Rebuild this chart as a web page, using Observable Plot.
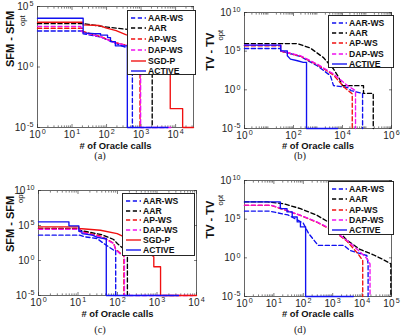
<!DOCTYPE html>
<html>
<head>
<meta charset="utf-8">
<script src="https://cdn.jsdelivr.net/npm/d3@7"></script>
<script src="https://cdn.jsdelivr.net/npm/@observablehq/plot@0.6"></script>
<style>
  body { margin: 0; background: #fff; }
  #fig { position: relative; width: 401px; height: 336px; overflow: hidden; background: #fff;
         font-family: "Liberation Sans", Arial, sans-serif; }
  .panel { position: absolute; }
  .cap { position: absolute; width: 40px; text-align: center; font-family: "Liberation Serif", "Times New Roman", serif;
         font-size: 10.5px; color: #222; }
  .legend { position: absolute; background: #fff; border: 0.7px solid #262626; box-sizing: border-box; }
  .legend .row { position: absolute; left: 0; height: 10px; display: flex; align-items: center; white-space: nowrap; }
  .legend svg { display: block; }
  .legend span { font-weight: bold; font-size: 8.6px; color: #111; margin-left: 2px; }
</style>
</head>
<body>
<div id="fig"></div>
<script>
// ---- data: vertices of each convergence curve (oracle calls, gap) ----
const namesSFM = ["AAR-WS", "AAR", "AP-WS", "DAP-WS", "SGD-P", "ACTIVE"];
const namesTV = ["AAR-WS", "AAR", "AP-WS", "DAP-WS", "ACTIVE"];

// (a) SFM, first instance
const sfmA_AARWS = [[1,950],[21,950],[21,550],[67,300],[170,100],[300,50],[560,30],[560,1e-5]];
const sfmA_AAR = [[1,3800],[21,3800],[30,3300],[80,2200],[200,1600],[400,1300],[700,300],[1200,20],[2100,3],[2100,1e-5]];
const sfmA_APWS = [[1,1600],[20,1600],[20,900],[67,330],[170,110],[400,60],[800,15],[930,4],[930,1e-5]];
const sfmA_DAPWS = [[1,2300],[18,2300],[18,1000],[21,700],[67,310],[170,105],[400,60],[700,20],[970,5],[970,1e-5],[8000,1e-5]];
const sfmA_SGDP = [[1,5000],[21,5000],[21,3000],[60,2700],[95,1700],[190,1000],[360,480],[1000,210],[2000,60],[3500,20],[7000,5],[7000,3.6e-4],[1.6e4,3.6e-4],[1.6e4,1e-5],[3.3e4,1e-5]];
const sfmA_ACTIVE = [[1,1.07e4],[21,1.07e4],[21,660],[45,560],[67,560],[67,430],[107,430],[107,270],[130,270],[130,126],[180,126],[180,56],[400,56],[400,1e-5],[6000,1e-5]];

// (b) TV, first instance
const tvB_AARWS = [[1,2.2e5],[30,2.2e5],[30,1.1e5],[195,2e4],[930,1300],[3200,70],[4300,3.5],[1.6e4,2],[2.2e4,0.8],[6.6e4,0.35],[6.6e4,1e-5]];
const tvB_AAR = [[1,9.5e5],[145,9.5e5],[490,2.5e5],[1660,1.5e4],[4300,490],[7000,40],[1e4,3.5],[7.2e4,3.5],[7.2e4,0.35],[1.8e5,0.35],[1.8e5,1e-5]];
const tvB_APWS = [[1,5e5],[30,5e5],[30,1e5],[195,2.2e4],[930,1800],[4300,80],[1.2e4,2],[2.5e4,0.3],[2.5e4,1e-5]];
const tvB_DAPWS = [[1,6e5],[30,6e5],[30,1.1e5],[195,2.5e4],[930,2100],[4300,110],[1.6e4,3.5],[3.4e4,0.8],[3.4e4,1e-5]];
const tvB_ACTIVE = [[1,6e5],[30,6e5],[30,1.1e5],[56,1.1e5],[56,2.5e4],[75,9.3e3],[145,5.8e3],[250,3.5e3],[340,3.5e3],[340,1e-5],[6300,1e-5]];

// (c) SFM, second instance
const sfmC_AARWS = [[1,4.2e3],[11,4.2e3],[15,2.4e3],[30,1.4e3],[45,270],[80,30],[90,30],[90,1e-5]];
const sfmC_AAR = [[1,3.7e4],[11,3.7e4],[11,2e4],[40,5e3],[80,1000],[100,250],[140,50],[178,10],[178,1e-5]];
const sfmC_APWS = [[1,3.3e4],[11,3.3e4],[11,1.5e4],[38,3e3],[80,300],[90,40],[120,10],[145,10],[145,1e-5]];
const sfmC_DAPWS = [[1,2.8e4],[11.2,2.8e4],[11.2,1.2e4],[38,2.4e3],[80,270],[90,30],[120,8],[150,8],[150,1e-5],[8000,1e-5]];
const sfmC_SGDP = [[1,6.5e4],[10.5,6.5e4],[10.5,3.7e4],[37,2.1e4],[98,7e3],[178,1.4e3],[316,270],[560,17],[830,3.4],[830,0.13],[1230,0.13],[1230,1e-5],[1e4,1e-5]];
const sfmC_ACTIVE = [[1,3.3e5],[5.9,3.3e5],[5.9,9e4],[10.5,9e4],[10.5,1.5e4],[12.6,1.5e4],[12.6,7e3],[23,4.2e3],[31,2e3],[45,1.4e3],[52,1.4e3],[52,1e-5],[3500,1e-5]];

// (d) TV, second instance
const tvD_AARWS = [[1,1.1e6],[7,1.1e6],[30,3.5e5],[100,3e4],[150,1.5e3],[320,40],[2400,40],[3900,9],[1.45e4,2],[1.6e4,0.17],[1.6e4,1e-5]];
const tvD_AAR = [[1,1.7e7],[6,1.7e7],[21,1e7],[80,2.3e6],[290,3.2e5],[1070,1.7e4],[3000,200],[8500,12],[2.4e4,2.5],[5.2e4,0.6],[9.5e4,0.17],[9.5e4,1e-5]];
const tvD_APWS = [[1,6e6],[8,6e6],[21,1.8e6],[80,3e5],[290,4e4],[1070,3e3],[3000,150],[7000,4],[1.05e4,0.45],[1.05e4,1e-5]];
const tvD_DAPWS = [[1,6.5e6],[8,6.5e6],[21,2e6],[80,3.2e5],[290,4.4e4],[1070,3.6e3],[3000,190],[8500,6],[1.45e4,0.8],[1.86e4,0.17],[1.86e4,1e-5]];
const tvD_ACTIVE = [[1,1.7e7],[16.5,1.7e7],[16.5,2.3e6],[28,2.3e6],[28,8.7e5],[42,8.7e5],[42,1.9e5],[62,1.9e5],[62,4.4e4],[80,4.4e4],[80,1e4],[120,1e4],[120,1e-5],[5000,1e-5]];

// axis ticks
const xTicksA = [1, 10, 100, 1000, 10000];
const xTicksB = [1, 100, 1e4, 1e6];
const xTicksC = [1, 10, 100, 1000, 10000];
const xTicksD = [1, 10, 100, 1000, 1e4, 1e5];
const yTicksSFM1 = [1e-5, 1, 1e5];
const yTicksWide = [1e-5, 1, 1e5, 1e10];

// line style of each method
const styles = {
  "AAR-WS": {stroke: "#1010f0", dash: true},
  "AAR":    {stroke: "#000000", dash: true},
  "AP-WS":  {stroke: "#f01010", dash: true},
  "DAP-WS": {stroke: "#f010f0", dash: true},
  "SGD-P":  {stroke: "#f01010", dash: false},
  "ACTIVE": {stroke: "#1010f0", dash: false}
};
const DASH = "4.2,2.6";

const fig = document.getElementById("fig");

function minorTicks(lo, hi) {
  const out = [];
  for (let k = Math.floor(Math.log10(lo)); k <= Math.ceil(Math.log10(hi)); k++)
    for (let m = 2; m <= 9; m++) { const v = m * Math.pow(10, k); if (v > lo && v < hi) out.push(v); }
  return out;
}

function superscripts(svg) {
  const ns = "http://www.w3.org/2000/svg";
  svg.querySelectorAll("text").forEach(t => {
    const m = /^10\^(-?\d+)$/.exec(t.textContent);
    if (!m) return;
    t.textContent = "";
    const a = document.createElementNS(ns, "tspan"); a.textContent = "10";
    const b = document.createElementNS(ns, "tspan"); b.textContent = m[1];
    b.setAttribute("dy", "-0.45em"); b.setAttribute("dx", "1.2"); b.setAttribute("font-size", "7.2");
    t.append(a, b);
  });
}

function panel(cfg) {
  const fmt = d => "10^" + Math.round(Math.log10(d));
  const marks = [
    Plot.frame({stroke: "#262626", strokeWidth: 0.7}),
    Plot.axisX(cfg.xTicks, {tickSize: 0, tickPadding: 3, tickFormat: fmt, fontSize: 10, label: null}),
    Plot.axisY(cfg.yTicks, {tickSize: 0, tickPadding: 4, tickFormat: fmt, fontSize: 10, label: null}),
    Plot.axisX(cfg.xTicks, {tickSize: -3, text: null, label: null, strokeWidth: 0.6}),
    Plot.axisX(cfg.xTicks, {anchor: "top", tickSize: -3, text: null, label: null, strokeWidth: 0.6}),
    Plot.axisX(minorTicks(cfg.xDomain[0], cfg.xDomain[1]), {tickSize: -1.6, text: null, label: null, strokeWidth: 0.6}),
    Plot.axisX(minorTicks(cfg.xDomain[0], cfg.xDomain[1]), {anchor: "top", tickSize: -1.6, text: null, label: null, strokeWidth: 0.6}),
    Plot.axisY(cfg.yTicks, {tickSize: -3, text: null, label: null, strokeWidth: 0.6}),
    Plot.axisY(cfg.yTicks, {anchor: "right", tickSize: -3, text: null, label: null, strokeWidth: 0.6}),
    Plot.text(["# of Oracle calls"], {frameAnchor: "bottom", dy: cfg.xLabelDy, fontWeight: "bold", fontSize: 9.4, fill: "#111"}),
    Plot.text([cfg.yLabel], {frameAnchor: "left", rotate: -90, dx: cfg.yLabelDx, dy: cfg.yLabelDy, fontWeight: "bold", fontSize: 11, fill: "#111"}),
    Plot.text(["opt"], {frameAnchor: "left", rotate: -90, dx: cfg.subDx, dy: cfg.subDy, fontSize: 7.6, fill: "#111"})
  ];
  cfg.series.forEach(([name, pts]) => {
    const s = styles[name];
    marks.push(Plot.line(pts, {x: d => d[0], y: d => d[1], stroke: s.stroke, strokeWidth: 1.35,
      strokeDasharray: s.dash ? DASH : null, curve: "linear"}));
  });
  const svg = Plot.plot({
    width: cfg.width, height: cfg.height,
    marginLeft: cfg.m[0], marginRight: cfg.m[1], marginTop: cfg.m[2], marginBottom: cfg.m[3],
    x: {type: "log", domain: cfg.xDomain},
    y: {type: "log", domain: cfg.yDomain},
    style: {fontFamily: '"Liberation Sans", Arial, sans-serif', fontSize: "10px", color: "#262626", background: "transparent", overflow: "visible"},
    marks
  });
  superscripts(svg);
  const wrap = document.createElement("div");
  wrap.className = "panel";
  wrap.style.left = cfg.left + "px"; wrap.style.top = cfg.top + "px";
  wrap.appendChild(svg);
  fig.appendChild(wrap);

  // legend box
  const lg = document.createElement("div");
  lg.className = "legend";
  const [lx, ly, lw, lh] = cfg.legend;
  Object.assign(lg.style, {left: lx + "px", top: ly + "px", width: lw + "px", height: lh + "px"});
  cfg.series.forEach(([name], i) => {
    const s = styles[name];
    const row = document.createElement("div");
    row.className = "row";
    row.style.top = (cfg.legendRow0 + i * cfg.legendStep - 5) + "px";
    row.style.left = "3px";
    row.innerHTML = `<svg width="15" height="4"><line x1="0" x2="15" y1="2" y2="2" stroke="${s.stroke}" stroke-width="1.35" ${s.dash ? `stroke-dasharray="${DASH}"` : ""}/></svg><span>${name}</span>`;
    lg.appendChild(row);
  });
  fig.appendChild(lg);

  const cap = document.createElement("div");
  cap.className = "cap";
  cap.textContent = cfg.caption;
  cap.style.left = (cfg.capX - 20) + "px"; cap.style.top = cfg.capY + "px";
  fig.appendChild(cap);
}

panel({
  left: 0, top: 0, width: 200, height: 168, m: [37, 7, 6, 41],
  xDomain: [1, 3.3e4], yDomain: [1e-5, 1e5], xTicks: xTicksA, yTicks: yTicksSFM1,
  yLabel: "SFM - SFM", yLabelDx: -27, yLabelDy: 0, subDx: -15, subDy: -41, xLabelDy: 21,
  series: [["AAR-WS", sfmA_AARWS], ["AAR", sfmA_AAR], ["AP-WS", sfmA_APWS], ["DAP-WS", sfmA_DAPWS], ["SGD-P", sfmA_SGDP], ["ACTIVE", sfmA_ACTIVE]],
  legend: [127, 10, 69, 65], legendRow0: 6.7, legendStep: 10.7,
  caption: "(a)", capX: 100, capY: 150
});
panel({
  left: 200, top: 0, width: 201, height: 168, m: [44, 10, 12, 40],
  xDomain: [1, 1e6], yDomain: [1e-5, 1e10], xTicks: xTicksB, yTicks: yTicksWide,
  yLabel: "TV - TV", yLabelDx: -34, yLabelDy: 0, subDx: -24, subDy: -30, xLabelDy: 20,
  series: [["AAR-WS", tvB_AARWS], ["AAR", tvB_AAR], ["AP-WS", tvB_APWS], ["DAP-WS", tvB_DAPWS], ["ACTIVE", tvB_ACTIVE]],
  legend: [328, 15, 66, 53], legendRow0: 6.7, legendStep: 10.3,
  caption: "(b)", capX: 300, capY: 150
});
panel({
  left: 0, top: 168, width: 200, height: 168, m: [38, 4, 22, 41],
  xDomain: [1, 1e4], yDomain: [1e-5, 1e10], xTicks: xTicksC, yTicks: yTicksWide,
  yLabel: "SFM - SFM", yLabelDx: -28, yLabelDy: 9, subDx: -18, subDy: -40, xLabelDy: 21,
  series: [["AAR-WS", sfmC_AARWS], ["AAR", sfmC_AAR], ["AP-WS", sfmC_APWS], ["DAP-WS", sfmC_DAPWS], ["SGD-P", sfmC_SGDP], ["ACTIVE", sfmC_ACTIVE]],
  legend: [122, 193, 73, 63], legendRow0: 6.7, legendStep: 9.8,
  caption: "(c)", capX: 100, capY: 324
});
panel({
  left: 200, top: 168, width: 201, height: 168, m: [44, 10, 12, 40],
  xDomain: [1, 1e5], yDomain: [1e-5, 1e10], xTicks: xTicksD, yTicks: yTicksWide,
  yLabel: "TV - TV", yLabelDx: -34, yLabelDy: 0, subDx: -24, subDy: -33, xLabelDy: 20,
  series: [["AAR-WS", tvD_AARWS], ["AAR", tvD_AAR], ["AP-WS", tvD_APWS], ["DAP-WS", tvD_DAPWS], ["ACTIVE", tvD_ACTIVE]],
  legend: [328, 181, 66, 54], legendRow0: 6.7, legendStep: 10.4,
  caption: "(d)", capX: 300, capY: 324
});
</script>
</body>
</html>
